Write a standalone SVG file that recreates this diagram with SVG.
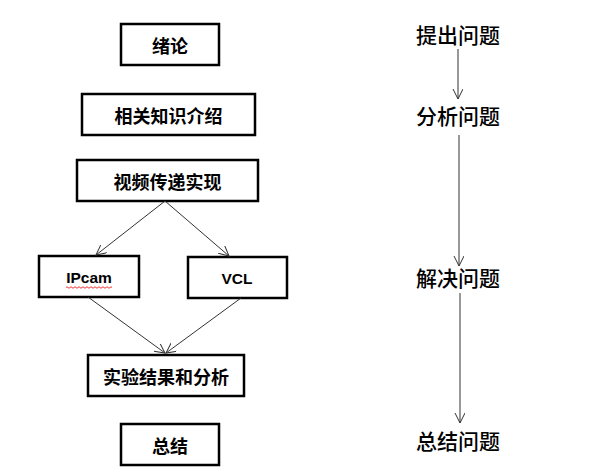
<svg xmlns="http://www.w3.org/2000/svg" width="593" height="474" viewBox="0 0 593 474">
<defs>
<marker id="ah" markerWidth="12" markerHeight="12" refX="10" refY="5" orient="auto" markerUnits="userSpaceOnUse">
<path d="M0,0 L10,5 L0,10" fill="none" stroke="#333" stroke-width="1"/>
</marker>
<style>
.box{fill:#fff;stroke:#000;stroke-width:2.5}
.cn{font-family:"Noto Sans CJK SC","Noto Sans",sans-serif;font-size:18px;font-weight:bold;fill:#000;text-anchor:middle;dominant-baseline:central}
.en{font-family:"Liberation Sans",Arial,sans-serif;font-size:15.5px;font-weight:bold;fill:#000;text-anchor:middle}
.rt{font-family:"Noto Sans CJK SC","Noto Sans",sans-serif;font-size:21px;font-weight:500;fill:#000;text-anchor:middle;dominant-baseline:central}
.ln{stroke:#333;stroke-width:1;fill:none;marker-end:url(#ah)}
</style>
</defs>
<rect width="593" height="474" fill="#fff"/>
<g id="n1"><rect class="box" x="121" y="24" width="98" height="41"/><text class="cn" x="170" y="44.5">绪论</text></g>
<g id="n2"><rect class="box" x="82" y="94" width="173" height="41"/><text class="cn" x="168.5" y="114.5">相关知识介绍</text></g>
<g id="n3"><rect class="box" x="77" y="160" width="181" height="41"/><text class="cn" x="167.5" y="180.5">视频传递实现</text></g>
<g id="n4"><rect class="box" x="39" y="256" width="100" height="41"/><text class="en" x="89" y="282.5">IPcam</text>
<path d="M66,287.5 q1,-1.5 2,0 t2,0 t2,0 t2,0 t2,0 t2,0 t2,0 t2,0 t2,0 t2,0 t2,0 t2,0 t2,0 t2,0 t2,0 t2,0 t2,0 t2,0 t2,0 t2,0 t2,0 t2,0 t2,0" fill="none" stroke="#e00" stroke-width="0.8"/></g>
<g id="n5"><rect class="box" x="188" y="257" width="99" height="41"/><text class="en" x="237" y="283.5">VCL</text></g>
<g id="n6"><rect class="box" x="88" y="355" width="156" height="41"/><text class="cn" x="166" y="375.5">实验结果和分析</text></g>
<g id="n7"><rect class="box" x="121" y="424" width="98" height="41"/><text class="cn" x="170" y="444.5">总结</text></g>
<g id="r1"><text class="rt" x="458" y="34">提出问题</text></g>
<g id="r2"><text class="rt" x="458" y="115">分析问题</text></g>
<g id="r3"><text class="rt" x="458" y="277">解决问题</text></g>
<g id="r4"><text class="rt" x="458" y="440">总结问题</text></g>
<g id="connectors">
<line class="ln" x1="165" y1="201" x2="96" y2="255"/>
<line class="ln" x1="165" y1="201" x2="229" y2="256"/>
<line class="ln" x1="88" y1="297" x2="165" y2="353"/>
<line class="ln" x1="241" y1="298" x2="166" y2="353"/>
<line class="ln" x1="458" y1="49" x2="458" y2="99"/>
<line class="ln" x1="459" y1="135" x2="459" y2="266"/>
<line class="ln" x1="460" y1="293" x2="460" y2="423"/>
</g>
</svg>
